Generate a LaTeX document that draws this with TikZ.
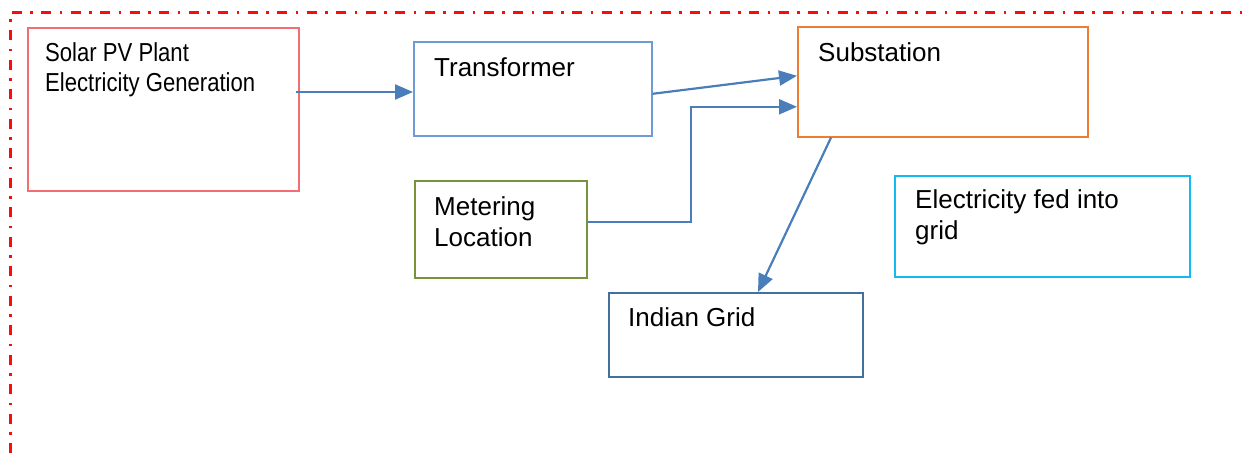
\documentclass[tikz,border=0pt]{standalone}
\usepackage{fontspec}
\setmainfont{Liberation Sans}
\newfontfamily\condfont[FakeStretch=0.85]{Liberation Sans}
\usetikzlibrary{arrows.meta,calc}
\definecolor{cSolar}{RGB}{242,110,115}
\definecolor{cTrans}{RGB}{110,155,215}
\definecolor{cSub}{RGB}{237,125,49}
\definecolor{cMeter}{RGB}{119,147,60}
\definecolor{cGrid}{RGB}{65,113,156}
\definecolor{cFed}{RGB}{20,185,240}
\definecolor{cArr}{RGB}{74,126,187}
\definecolor{cBorder}{RGB}{255,10,10}
\tikzset{
  box/.style={draw=#1, line width=1.6pt, rectangle, inner sep=0pt, anchor=north west},
  txt/.style={anchor=base west, inner sep=0pt, font=\fontsize{26}{31}\selectfont, align=left},
  ctxt/.style={anchor=base west, inner sep=0pt, font=\condfont\fontsize{26}{30}\selectfont, align=left},
  arr/.style={draw=cArr, line width=2.2pt, -{Triangle[length=18pt,width=15pt]}},
  border/.style={draw=cBorder, line width=3pt, dash pattern=on 10pt off 8.5pt on 2.5pt off 8.5pt}
}
\begin{document}
\begin{tikzpicture}[x=1pt,y=-1pt]
\useasboundingbox (0,0) rectangle (1245,453);
% border
\draw[border] (10,453) -- (10,12) -- (1245,12);
% boxes
\node[box=cSolar, minimum width=271pt, minimum height=163pt] (solar) at (27,27) {};
\node[box=cTrans, minimum width=238pt, minimum height=94pt] (trans) at (413,41) {};
\node[box=cSub, minimum width=290pt, minimum height=110pt] (sub) at (797,26) {};
\node[box=cMeter, minimum width=172pt, minimum height=97pt] (meter) at (414,180) {};
\node[box=cGrid, minimum width=254pt, minimum height=84pt] (grid) at (608,292) {};
\node[box=cFed, minimum width=295pt, minimum height=101pt] (fed) at (894,175) {};
% texts (base = baseline of the last line)
\node[ctxt] (solart) at (45,91.7) {Solar PV Plant\\Electricity Generation};
\node[txt] (transt) at (434,76.5) {Transformer};
\node[txt] (subt) at (818,61.5) {Substation};
\node[txt] (metert) at (434,246) {Metering\\Location};
\node[txt] (gridt) at (628,326.5) {Indian Grid};
\node[txt] (fedt) at (915,239) {Electricity fed into\\grid};
% connectors
\coordinate (elbow) at (691,0);
\draw[arr] ([shift={(-4,65)}]solar.north east) coordinate (s1) -- (s1 -| trans.west);
\draw[arr] ([yshift=-5pt]trans.east) -- ([yshift=6pt]sub.west);
\draw[arr] ([yshift=7.5pt]meter.east) coordinate (m1) -- (m1 -| elbow) |- ([yshift=-25pt]sub.west);
\draw[arr] ([xshift=34pt]sub.south west) -- ([xshift=150pt]grid.north west);
\end{tikzpicture}
\end{document}
